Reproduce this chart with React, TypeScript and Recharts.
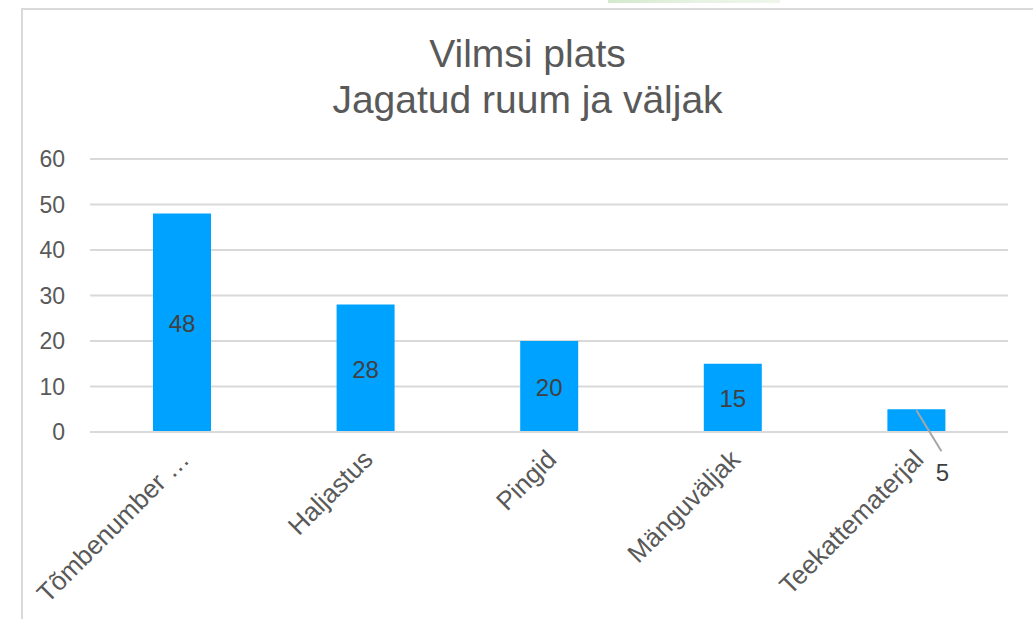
import React from 'react';
import { BarChart, Bar, XAxis, YAxis, CartesianGrid, LabelList } from 'recharts';

const categories = ['Tõmbenumber …', 'Haljastus', 'Pingid', 'Mänguväljak', 'Teekattematerjal'];
const counts = [48, 28, 20, 15, 5];
const yTicks = [0, 10, 20, 30, 40, 50, 60];
const titleLines = ['Vilmsi plats', 'Jagatud ruum ja väljak'];

const data = categories.map((name, i) => ({ name, value: counts[i] }));

const FONT = '"Liberation Sans", Arial, Helvetica, sans-serif';

const XTick = (props: any) => {
  const { x, y, payload } = props;
  const ax = x + 9;
  const ay = y + 21;
  return (
    <text
      x={ax}
      y={ay}
      transform={`rotate(-45, ${ax}, ${ay})`}
      textAnchor="end"
      fill="#595959"
      fontSize={26}
      fontFamily={FONT}
    >
      {payload.value}
    </text>
  );
};

const renderValue = (props: any) => {
  const { x, y, width, height, value } = props;
  const cx = x + width / 2;
  if (value < 10) {
    // small bar: label sits outside with a leader line
    return (
      <g>
        <line x1={cx} y1={y + 1} x2={cx + 25} y2={y + 42} stroke="#a6a6a6" strokeWidth={2} />
        <text x={cx + 26} y={y + 63} textAnchor="middle" dominantBaseline="central" fill="#404040" fontSize={24} fontFamily={FONT}>
          {value}
        </text>
      </g>
    );
  }
  return (
    <text x={cx} y={y + height / 2 + 1} textAnchor="middle" dominantBaseline="central" fill="#404040" fontSize={24} fontFamily={FONT}>
      {value}
    </text>
  );
};

export default function App() {
  return (
    <div style={{ position: 'fixed', left: 0, top: 0, width: 1033, height: 619, background: '#fff', overflow: 'hidden' }}>
      <div style={{ position: 'absolute', left: 608, top: 0, width: 172, height: 3, background: 'linear-gradient(90deg, #d3e9cc, #e6f2e2, #eef6ec)' }} />
      <div
        style={{
          position: 'absolute',
          left: 21,
          top: 8,
          width: 1040,
          height: 640,
          borderTop: '2px solid #d9d9d9',
          borderLeft: '2px solid #d9d9d9',
        }}
      />
      <div
        style={{
          position: 'absolute',
          left: 22,
          right: 0,
          top: 31,
          textAlign: 'center',
          fontFamily: FONT,
          fontSize: 39,
          lineHeight: '46px',
          color: '#595959',
        }}
      >
        {titleLines.map((t) => (
          <div key={t}>{t}</div>
        ))}
      </div>
      <div style={{ position: 'absolute', left: 0, top: 0 }}>
        <BarChart width={1033} height={619} data={data} margin={{ top: 159, right: 25, bottom: 37, left: 20 }}>
          <CartesianGrid vertical={false} stroke="#d9d9d9" strokeWidth={2} />
          <XAxis
            dataKey="name"
            axisLine={{ stroke: '#d9d9d9', strokeWidth: 2 }}
            tickLine={false}
            height={150}
            interval={0}
            tick={<XTick />}
          />
          <YAxis
            domain={[0, 60]}
            ticks={yTicks}
            width={70}
            axisLine={false}
            tickLine={false}
            tickSize={0}
            tickMargin={25}
            tick={{ fill: '#595959', fontSize: 23, fontFamily: FONT }}
          />
          <Bar dataKey="value" fill="#00a2ff" barSize={58} isAnimationActive={false}>
            <LabelList dataKey="value" content={renderValue} />
          </Bar>
        </BarChart>
      </div>
    </div>
  );
}
